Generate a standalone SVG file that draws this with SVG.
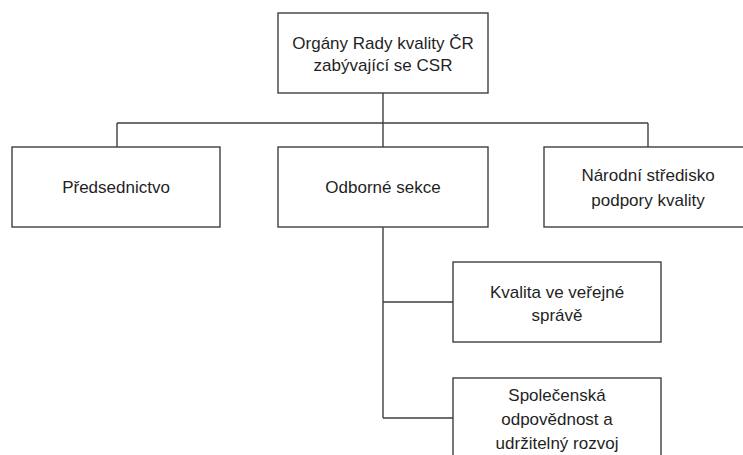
<svg xmlns="http://www.w3.org/2000/svg" width="743" height="455" viewBox="0 0 743 455">
<style>
.box{fill:#ffffff;stroke:#3f3f3f;stroke-width:1.4}
.conn{fill:none;stroke:#3f3f3f;stroke-width:1.4}
text{font-family:"Liberation Sans",Arial,sans-serif;font-size:17px;fill:#1f1f1f;text-anchor:middle}
</style>
<rect width="743" height="455" fill="#ffffff"/>
<g id="connectors">
<path class="conn" d="M383 93 V147 M117 123 H648 M117 123 V147 M648 123 V147"/>
<path class="conn" d="M383 227 V418 M383 302 H453 M383 418 H453"/>
</g>
<g id="root">
<rect class="box" x="278" y="13" width="210" height="80"/>
<text x="383" y="49">Orgány Rady kvality ČR</text>
<text x="383" y="71">zabývající se CSR</text>
</g>
<g id="predsednictvo">
<rect class="box" x="12" y="147" width="208" height="80"/>
<text x="116" y="193">Předsednictvo</text>
</g>
<g id="odborne-sekce">
<rect class="box" x="278" y="147" width="210" height="80"/>
<text x="383" y="193">Odborné sekce</text>
</g>
<g id="narodni-stredisko">
<rect class="box" x="544" y="147" width="208" height="80"/>
<text x="648" y="181">Národní středisko</text>
<text x="648" y="206">podpory kvality</text>
</g>
<g id="kvalita">
<rect class="box" x="453" y="262" width="208" height="80"/>
<text x="557" y="298">Kvalita ve veřejné</text>
<text x="557" y="321">správě</text>
</g>
<g id="spolecenska">
<rect class="box" x="453" y="378" width="208" height="90"/>
<text x="557" y="401">Společenská</text>
<text x="557" y="425">odpovědnost a</text>
<text x="557" y="449">udržitelný rozvoj</text>
</g>
</svg>
